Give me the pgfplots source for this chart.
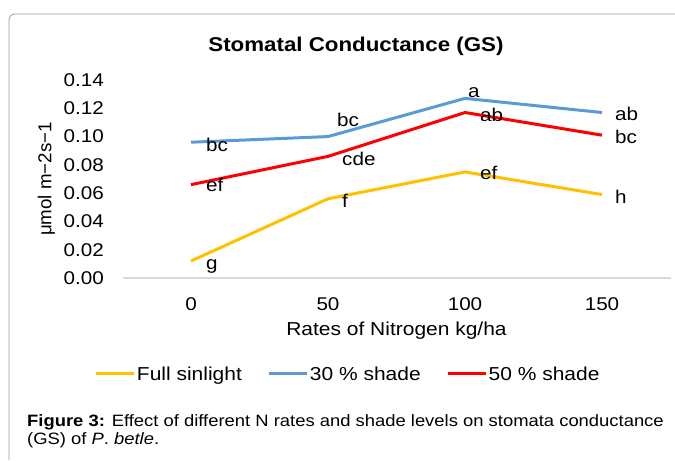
\documentclass[border=0pt]{standalone}
\usepackage{fontspec}
\setmainfont{Liberation Sans}[FakeStretch=1.12]
\newfontfamily\plainfont{Liberation Sans}
\usepackage{pgfplots}
\pgfplotsset{compat=1.18}
\usepackage{pgfplotstable}
\definecolor{cyel}{HTML}{FFC000}
\definecolor{cblu}{HTML}{5B9BD5}
\definecolor{cred}{HTML}{FF0000}
\pgfplotstableread{
x y
0 0.012
1 0.056
2 0.075
3 0.059
}\tfull
\pgfplotstableread{
x y
0 0.096
1 0.100
2 0.127
3 0.117
}\tthirty
\pgfplotstableread{
x y
0 0.066
1 0.086
2 0.117
3 0.101
}\tfifty
\begin{document}
\begin{tikzpicture}
\useasboundingbox (0bp,0bp) rectangle (675bp,461bp);
\draw[black!40, line width=0.8bp, rounded corners=6bp] (9bp,1bp) -- (9bp,447bp) -- (700bp,447bp);
\begin{axis}[
  at={(122.5bp,183bp)}, anchor=south west,
  scale only axis, width=548bp, height=198bp,
  xmin=-0.5, xmax=3.5, ymin=0, ymax=0.14,
  axis x line*=bottom, axis y line*=left,
  x axis line style={draw=black!15, line width=1.2bp, -},
  y axis line style={draw=none},
  major tick length=0pt,
  xtick={0,1,2,3}, xticklabels={0,50,100,150},
  ytick={0,0.02,0.04,0.06,0.08,0.10,0.12,0.14},
  ticklabel style={font=\fontsize{18.5}{20}\selectfont},
  yticklabel style={/pgf/number format/.cd, fixed, fixed zerofill, precision=2, assume math mode=true, /tikz/.cd, anchor=east, inner sep=0pt, xshift=-18.5bp},
  xticklabel style={/pgf/number format/assume math mode=true, anchor=north, inner sep=0pt, yshift=-19bp},
  title={Stomatal Conductance (GS)},
  title style={at={(axis description cs:0.426,1)}, anchor=base, yshift=23bp, inner sep=0pt, font=\fontsize{20}{24}\selectfont\bfseries},
  xlabel={Rates of Nitrogen kg/ha},
  xlabel style={at={(axis description cs:0.5,0)}, anchor=base, yshift=-58bp, inner sep=0pt, font=\fontsize{18.8}{22}\selectfont},
  ylabel={\plainfont μmol m−2s−1},
  ylabel style={at={(axis description cs:-0.130,0.5)}, anchor=base, inner sep=0pt, font=\fontsize{18.8}{22}\selectfont},
  legend columns=3,
  legend style={draw=none, fill=none, at={(axis description cs:-0.0502,-0.4848)}, anchor=west, inner sep=0pt, outer sep=0pt, font=\fontsize{18.8}{22}\selectfont, /tikz/every even column/.append style={column sep=25bp}, nodes={inner sep=1bp}},
  legend image code/.code={\draw[#1, line width=3bp] (0bp,0bp) -- (38bp,0bp);},
  every axis plot/.append style={line width=3bp, mark=none},
  clip=false,
]
\addplot[cyel] table[x=x,y=y] {\tfull};
\addlegendentry{Full sinlight}
\addplot[cblu] table[x=x,y=y] {\tthirty};
\addlegendentry{30 \% shade}
\addplot[cred] table[x=x,y=y] {\tfifty};
\addlegendentry{50 \% shade}
\tikzset{lab/.style={anchor=base west, inner sep=0pt, font=\fontsize{18.5}{20}\selectfont}}
% Full sunlight
\node[lab, xshift=15bp, yshift=-8bp] at (axis cs:0,0.012) {g};
\node[lab, xshift=14bp, yshift=-8.7bp] at (axis cs:1,0.056) {f};
\node[lab, xshift=15bp, yshift=-7.3bp] at (axis cs:2,0.075) {ef};
\node[lab, xshift=13bp, yshift=-9bp] at (axis cs:3,0.059) {h};
% 30 % shade
\node[lab, xshift=15bp, yshift=-9bp] at (axis cs:0,0.096) {bc};
\node[lab, xshift=9bp, yshift=9.7bp] at (axis cs:1,0.100) {bc};
\node[lab, xshift=3bp, yshift=1.3bp] at (axis cs:2,0.127) {a};
\node[lab, xshift=13bp, yshift=-8.3bp] at (axis cs:3,0.117) {ab};
% 50 % shade
\node[lab, xshift=15bp, yshift=-7bp] at (axis cs:0,0.066) {ef};
\node[lab, xshift=14bp, yshift=-9.3bp] at (axis cs:1,0.086) {cde};
\node[lab, xshift=15bp, yshift=-8.7bp] at (axis cs:2,0.117) {ab};
\node[lab, xshift=13bp, yshift=-8.3bp] at (axis cs:3,0.101) {bc};
\end{axis}
\node[anchor=base west, inner sep=0pt, font=\fontsize{16.5}{18}\selectfont] at (27bp,35bp) {\textbf{Figure 3:} Effect of different N rates and shade levels on stomata conductance};
\node[anchor=base west, inner sep=0pt, font=\fontsize{16.5}{18}\selectfont] at (27bp,17bp) {(GS) of \textit{P}. \textit{betle}.};
\end{tikzpicture}
\end{document}
